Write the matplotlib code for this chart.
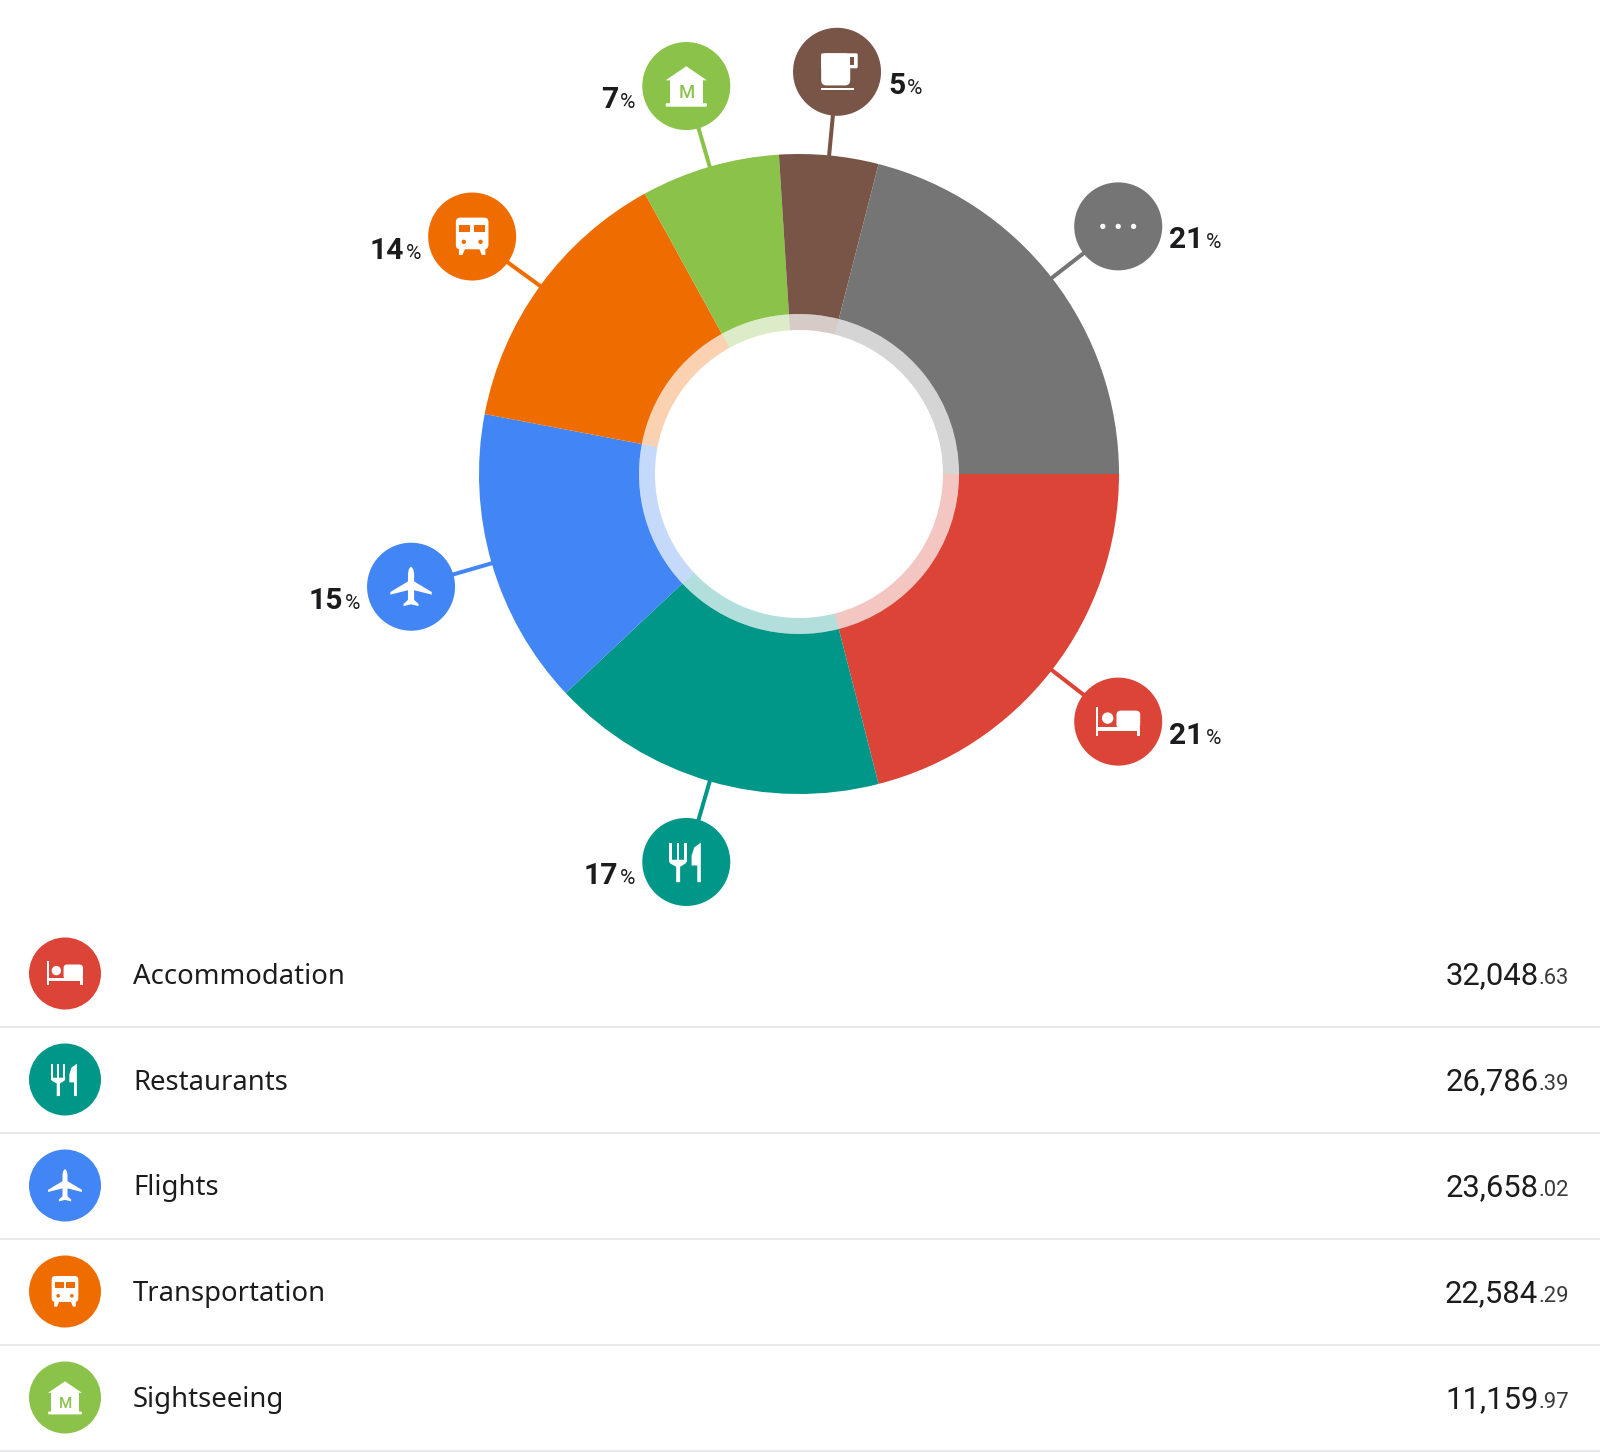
import numpy as np
import matplotlib
matplotlib.use('Agg')
import matplotlib.pyplot as plt
from matplotlib.patches import Circle, Polygon, Rectangle, FancyBboxPatch

names = ['Accommodation', 'Restaurants', 'Flights', 'Transportation', 'Sightseeing', 'Coffee', 'Other']
percents = [21, 17, 15, 14, 7, 5, 21]
colors = ['#DB4437', '#009688', '#4285F4', '#EF6C00', '#8BC34A', '#795548', '#757575']
icons = ['bed', 'food', 'plane', 'train', 'museum', 'cup', 'dots']
label_side = ['right', 'left', 'left', 'left', 'left', 'right', 'right']

list_names = ['Accommodation', 'Restaurants', 'Flights', 'Transportation', 'Sightseeing']
list_whole = ['32,048', '26,786', '23,658', '22,584', '11,159']
list_cents = ['.63', '.39', '.02', '.29', '.97']

W, H = 1600, 1452
CX, CY = 799, 474
TEXT = '#1c1c1e'
PX = 0.72  # px to pt at dpi 100

fig = plt.figure(figsize=(W / 100, H / 100), dpi=100)
ax = fig.add_axes([0, 0, 1, 1])

# y axis gets inverted below, so counterclock here ends up clockwise on screen
ax.pie(percents, colors=colors, radius=320, center=(CX, CY), startangle=0,
       wedgeprops=dict(width=160, linewidth=0))
ax.pie(percents, colors=colors, radius=160, center=(CX, CY), startangle=0,
       wedgeprops=dict(width=16, linewidth=0, alpha=0.3))
ax.set_xlim(0, W)
ax.set_ylim(H, 0)
ax.set_aspect('equal')
ax.axis('off')


def poly(pts, cx, cy, r, color, z=4):
    pts = [(cx + a * r, cy + b * r) for a, b in pts]
    ax.add_patch(Polygon(pts, closed=True, facecolor=color, edgecolor='none', zorder=z))


def box(x0, y0, x1, y1, cx, cy, r, color, z=4):
    ax.add_patch(Rectangle((cx + x0 * r, cy + y0 * r), (x1 - x0) * r, (y1 - y0) * r,
                           facecolor=color, edgecolor='none', zorder=z))


def rbox(x0, y0, x1, y1, rad, cx, cy, r, color, z=4):
    ax.add_patch(FancyBboxPatch((cx + (x0 + rad) * r, cy + (y0 + rad) * r),
                                (x1 - x0 - 2 * rad) * r, (y1 - y0 - 2 * rad) * r,
                                boxstyle='round,pad=%f,rounding_size=%f' % (rad * r, rad * r),
                                facecolor=color, edgecolor='none', zorder=z))


def dot(x, y, rad, cx, cy, r, color, z=4):
    ax.add_patch(Circle((cx + x * r, cy + y * r), rad * r, facecolor=color, edgecolor='none', zorder=z))


def draw_icon(kind, cx, cy, r, color):
    ax.add_patch(Circle((cx, cy), r, facecolor=color, edgecolor='none', zorder=3))
    w = 'white'
    if kind == 'bed':
        box(-0.51, -0.34, -0.45, 0.33, cx, cy, r, w)
        box(-0.51, 0.12, 0.5, 0.21, cx, cy, r, w)
        box(0.42, 0.12, 0.5, 0.33, cx, cy, r, w)
        dot(-0.24, -0.08, 0.13, cx, cy, r, w)
        rbox(-0.04, -0.25, 0.5, 0.16, 0.1, cx, cy, r, w)
    elif kind == 'food':
        for x in (-0.39, -0.22, -0.05):
            box(x, -0.44, x + 0.06, 0.0, cx, cy, r, w)
        poly([(-0.39, -0.05), (0.01, -0.05), (-0.01, 0.03), (-0.14, 0.11), (-0.14, 0.46),
              (-0.23, 0.46), (-0.23, 0.11), (-0.37, 0.03)], cx, cy, r, w)
        poly([(0.33, -0.44), (0.33, 0.46), (0.25, 0.46), (0.25, 0.08), (0.12, 0.08),
              (0.12, -0.14), (0.18, -0.33)], cx, cy, r, w)
    elif kind == 'plane':
        poly([(0, -0.46), (0.05, -0.4), (0.07, -0.3), (0.07, 0.3), (0.17, 0.39), (0.17, 0.44),
              (0, 0.4), (-0.17, 0.44), (-0.17, 0.39), (-0.07, 0.3), (-0.07, -0.3),
              (-0.05, -0.4)], cx, cy, r, w)
        poly([(-0.07, -0.12), (-0.47, 0.12), (-0.47, 0.18), (-0.07, 0.08),
              (0.07, 0.08), (0.47, 0.18), (0.47, 0.12), (0.07, -0.12)], cx, cy, r, w)
    elif kind == 'train':
        rbox(-0.37, -0.43, 0.37, 0.29, 0.1, cx, cy, r, w)
        poly([(-0.3, 0.25), (-0.15, 0.25), (-0.22, 0.42), (-0.3, 0.42)], cx, cy, r, w)
        poly([(0.3, 0.25), (0.15, 0.25), (0.22, 0.42), (0.3, 0.42)], cx, cy, r, w)
        box(-0.29, -0.26, -0.04, -0.1, cx, cy, r, color, z=5)
        box(0.04, -0.26, 0.29, -0.1, cx, cy, r, color, z=5)
        dot(-0.19, 0.12, 0.05, cx, cy, r, color, z=5)
        dot(0.19, 0.12, 0.05, cx, cy, r, color, z=5)
    elif kind == 'museum':
        poly([(0, -0.45), (0.47, -0.13), (-0.47, -0.13)], cx, cy, r, w)
        box(-0.38, -0.14, 0.38, 0.41, cx, cy, r, w)
        rbox(-0.47, 0.39, 0.47, 0.47, 0.03, cx, cy, r, w)
        ax.text(cx, cy + 0.28 * r, 'M', color=color, fontsize=0.42 * r * PX, fontweight='medium',
                family='Roboto', ha='center', va='baseline', zorder=5)
    elif kind == 'cup':
        rbox(-0.36, -0.42, 0.3, 0.31, 0.12, cx, cy, r, w)
        rbox(-0.36, -0.42, 0.47, -0.08, 0.03, cx, cy, r, w)
        box(0.29, -0.33, 0.38, -0.15, cx, cy, r, color, z=5)
        box(-0.36, 0.36, 0.38, 0.42, cx, cy, r, w)
    elif kind == 'dots':
        for x in (-0.35, 0, 0.35):
            dot(x, 0, 0.06, cx, cy, r, w)


renderer = fig.canvas.get_renderer()


def two_part_right(x, y, big, small, bsize, ssize, family, bweight, sweight, gap, scolor):
    # small part right aligned at x, big part butted against it
    t = ax.text(x, y, small, fontsize=ssize * PX, family=family, fontweight=sweight, color=scolor,
                ha='right', va='baseline', zorder=6)
    ext = t.get_window_extent(renderer)
    ax.text(ext.x0 - gap, y, big, fontsize=bsize * PX, family=family, fontweight=bweight, color=TEXT,
            ha='right', va='baseline', zorder=6)


def two_part_left(x, y, big, small, bsize, ssize, family, bweight, sweight, gap, scolor):
    t = ax.text(x, y, big, fontsize=bsize * PX, family=family, fontweight=bweight, color=TEXT,
                ha='left', va='baseline', zorder=6)
    ext = t.get_window_extent(renderer)
    ax.text(ext.x1 + gap, y, small, fontsize=ssize * PX, family=family, fontweight=sweight, color=scolor,
            ha='left', va='baseline', zorder=6)


# bubbles, connectors and percent labels around the donut
edges = np.cumsum([0] + percents) * 3.6
for i, kind in enumerate(icons):
    mid = np.radians((edges[i] + edges[i + 1]) / 2)
    ux, uy = np.cos(mid), np.sin(mid)
    bx, by = CX + 404 * ux, CY + 404 * uy
    ax.plot([CX + 318 * ux, bx], [CY + 318 * uy, by], color=colors[i], lw=4 * PX, zorder=0.5,
            solid_capstyle='butt')
    draw_icon(kind, bx, by, 44, colors[i])
    if label_side[i] == 'right':
        two_part_left(bx + 51, by + 22, str(percents[i]), '%', 30, 21, 'Roboto', 'bold', 'normal', 2, TEXT)
    else:
        two_part_right(bx - 51, by + 22, str(percents[i]), '%', 30, 21, 'Roboto', 'bold', 'normal', 2, TEXT)

# list below the chart
for i, name in enumerate(list_names):
    y = 973.5 + 106 * i
    draw_icon(icons[i], 65, y, 36, colors[i])
    ax.text(133, y + 10, name, fontsize=27.5 * PX, family='Noto Sans', color=TEXT, ha='left', va='baseline')
    two_part_right(1569, y + 11, list_whole[i], list_cents[i], 31, 22, 'Roboto', 'normal', 'normal', 0, '#3a3a3c')
    ax.plot([0, W], [y + 53, y + 53], color='#e9e9eb', lw=2 * PX, zorder=1, solid_capstyle='butt')

fig.savefig('out.png', dpi=100, facecolor='white')
